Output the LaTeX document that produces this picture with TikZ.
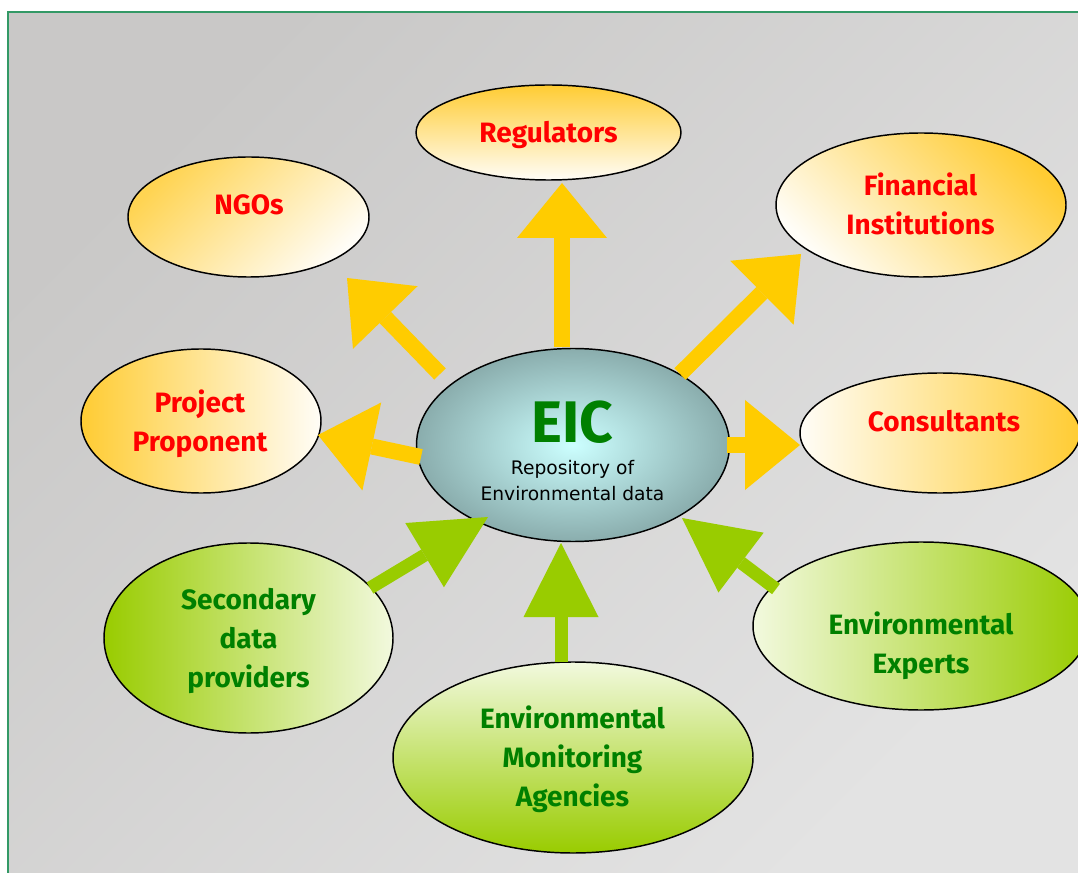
\documentclass[tikz,border=0pt]{standalone}
\usepackage{fontspec}
\setmainfont{DejaVu Sans}
\newfontfamily\lblfont{Fira Sans}
\usetikzlibrary{arrows.meta,shapes.geometric}
\definecolor{bgdark}{HTML}{C9C8C7}
\definecolor{bglight}{HTML}{E3E3E3}
\definecolor{framegreen}{HTML}{339966}
\definecolor{ylw}{HTML}{FFCC00}
\definecolor{grn}{HTML}{99CC00}
\definecolor{orng}{HTML}{FFCC33}
\definecolor{cream}{HTML}{FFFDF7}
\definecolor{lime}{HTML}{99CC00}
\definecolor{pale}{HTML}{F2F9DE}
\definecolor{eicin}{HTML}{CCFFFF}
\definecolor{eicout}{HTML}{8AADAD}
\definecolor{redtxt}{HTML}{FF0000}
\definecolor{grntxt}{HTML}{008000}
\tikzset{
  ell/.style={ellipse, draw=black, line width=1.1pt, inner sep=0pt},
  redlbl/.style={font=\lblfont\bfseries\fontsize{21}{29.25}\selectfont, text=redtxt, align=center, inner sep=0pt},
  grnlbl/.style={font=\lblfont\bfseries\fontsize{21}{29.25}\selectfont, text=grntxt, align=center, inner sep=0pt},
  yarrow/.style={draw=ylw, line width=12pt, -{Triangle[length=41.25pt,width=67.5pt,line width=0pt]}},
  garrow/.style={draw=grn, line width=9.75pt, -{Triangle[length=55.5pt,width=56.25pt,line width=0pt]}}
}
\begin{document}
\begin{tikzpicture}[x=0.75pt,y=-0.75pt]
\useasboundingbox (0,0) rectangle (1078,873);
% background
\fill[white] (0,0) rectangle (1078,873);
\shade[left color=bgdark, right color=bglight, shading angle=45] (8,12) rectangle (1078,873);
\draw[framegreen, line width=1.5pt] (8,873) -- (8,12) -- (1078,12);
% ellipses
\node[ell, minimum width=198.75pt, minimum height=71.25pt, top color=orng, bottom color=cream] (reg) at (548.5,132.5) {};
\node[ell, minimum width=180.75pt, minimum height=90pt, left color=orng!85, right color=cream, shading angle=45] (ngo) at (248.5,217) {};
\node[ell, minimum width=217.5pt, minimum height=108pt, left color=orng, right color=cream, shading angle=-45] (fin) at (921,205) {};
\node[ell, minimum width=180pt, minimum height=108pt, left color=orng, right color=cream] (pp) at (201,421) {};
\node[ell, minimum width=210pt, minimum height=90pt, left color=cream, right color=orng] (con) at (940,433) {};
\node[ell, minimum width=234.75pt, minimum height=144.75pt, inner color=eicin, outer color=eicout] (eic) at (573,445) {};
\node[ell, minimum width=216.75pt, minimum height=142.5pt, left color=lime, right color=pale] (sec) at (248.5,638) {};
\node[ell, minimum width=252pt, minimum height=126pt, left color=pale, right color=lime] (exp) at (921,626) {};
\node[ell, minimum width=270pt, minimum height=143.25pt, top color=pale, bottom color=lime] (mon) at (573,757.5) {};
% labels
\node[redlbl] (regT) at (548.5,135) {Regulators};
\node[redlbl] (ngoT) at (249,205) {NGOs};
\node[redlbl] (finT) at (920.5,204) {Financial\\Institutions};
\node[redlbl] (ppT) at (200,423.5) {Project\\Proponent};
\node[redlbl] (conT) at (944,421.5) {Consultants};
\node[grnlbl] (secT) at (248.5,640.5) {Secondary\\data\\providers};
\node[grnlbl] (expT) at (921,645.5) {Environmental\\Experts};
\node[grnlbl] (monT) at (572.5,759) {Environmental\\Monitoring\\Agencies};
\node[font=\lblfont\bfseries\fontsize{44}{50}\selectfont, text=grntxt, inner sep=0pt] (eicT) at (572.5,422) {EIC};
\node[font=\fontsize{14}{19}\selectfont, align=center, inner sep=0pt] (eicS) at (572.5,480.5) {Repository of\\Environmental data};
% arrow ends
\coordinate (regA) at (562,347); \coordinate (regB) at (562,183);
\coordinate (ngoA) at (440,374); \coordinate (ngoB) at (347,278);
\coordinate (finA) at (680,374); \coordinate (finB) at (801,254);
\coordinate (ppA) at (421,457);  \coordinate (ppB) at (318,435);
\coordinate (conA) at (727,445); \coordinate (conB) at (800,445);
\coordinate (secA) at (370,588); \coordinate (secB) at (488,517);
\coordinate (monA) at (561,662); \coordinate (monB) at (561,543);
\coordinate (expA) at (776,589); \coordinate (expB) at (682,518);
% arrows
\draw[yarrow] (regA) -- (regB);
\draw[yarrow] (ngoA) -- (ngoB);
\draw[yarrow] (finA) -- (finB);
\draw[yarrow] (ppA) -- (ppB);
\draw[yarrow] (conA) -- (conB);
\draw[garrow] (secA) -- (secB);
\draw[garrow] (monA) -- (monB);
\draw[garrow] (expA) -- (expB);
\end{tikzpicture}
\end{document}
